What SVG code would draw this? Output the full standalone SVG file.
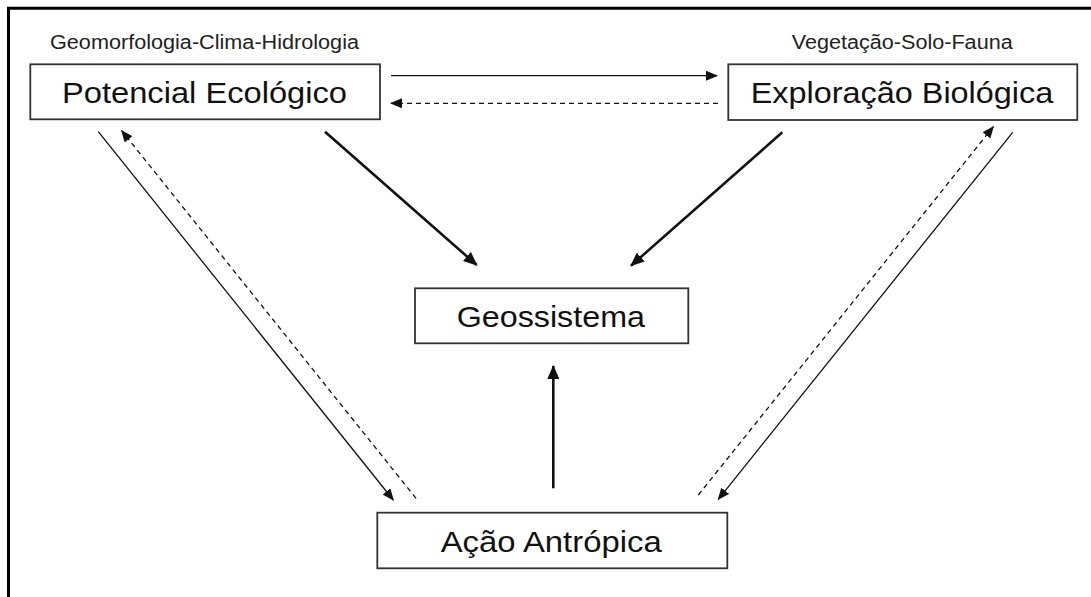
<svg xmlns="http://www.w3.org/2000/svg" width="1091" height="597" viewBox="0 0 1091 597">
<style>
.box{fill:#fff;stroke:#333;stroke-width:1.8}
.main{font-family:"Liberation Sans",Arial,sans-serif;font-size:30px;fill:#111}
.sub{font-family:"Liberation Sans",Arial,sans-serif;font-size:19.5px;fill:#222}
.thin{stroke:#111;stroke-width:1.3;fill:none}
.thick{stroke:#111;stroke-width:2.6;fill:none}
.dash{stroke-dasharray:5 4}
</style>
<defs>
<marker id="ah" markerUnits="userSpaceOnUse" markerWidth="12" markerHeight="10" refX="11" refY="5" orient="auto">
<path d="M0,0 L12,5 L0,10 z" fill="#111"/>
</marker>
<marker id="ahb" markerUnits="userSpaceOnUse" markerWidth="14" markerHeight="12" refX="13" refY="6" orient="auto">
<path d="M0,0 L14,6 L0,12 z" fill="#111"/>
</marker>
</defs>
<rect width="1091" height="597" fill="#fff"/>
<g id="frame">
<path d="M8.5,597 L8.5,8.3 L1091,8.3" fill="none" stroke="#000" stroke-width="3"/>
</g>
<g id="connectors">
<line class="thin" x1="391" y1="75.7" x2="717" y2="75.7" marker-end="url(#ah)"/>
<line class="thin dash" x1="718" y1="103.3" x2="391" y2="103.3" marker-end="url(#ah)"/>
<line class="thick" x1="325" y1="131.7" x2="476.7" y2="265" marker-end="url(#ahb)"/>
<line class="thick" x1="782.3" y1="132.3" x2="631" y2="265.7" marker-end="url(#ahb)"/>
<line class="thin" x1="98.3" y1="131.7" x2="393.3" y2="500" marker-end="url(#ah)"/>
<line class="thin dash" x1="416" y1="498.3" x2="121.7" y2="130.7" marker-end="url(#ah)"/>
<line class="thin" x1="1012.7" y1="132.3" x2="718.3" y2="499.3" marker-end="url(#ah)"/>
<line class="thin dash" x1="698.3" y1="495" x2="993.3" y2="126.7" marker-end="url(#ah)"/>
<line class="thick" x1="553.3" y1="488.3" x2="553.3" y2="366" marker-end="url(#ahb)"/>
</g>
<g id="potencial">
<text class="sub" x="50" y="49.3" textLength="309" lengthAdjust="spacingAndGlyphs">Geomorfologia-Clima-Hidrologia</text>
<rect class="box" x="30.3" y="64.3" width="349.7" height="55"/>
<text class="main" x="62" y="102.7" textLength="285" lengthAdjust="spacingAndGlyphs">Potencial Ecológico</text>
</g>
<g id="exploracao">
<text class="sub" x="791.7" y="49.3" textLength="221" lengthAdjust="spacingAndGlyphs">Vegetação-Solo-Fauna</text>
<rect class="box" x="728.3" y="64.3" width="349" height="55.7"/>
<text class="main" x="750.7" y="103.3" textLength="302.6" lengthAdjust="spacingAndGlyphs">Exploração Biológica</text>
</g>
<g id="geossistema">
<rect class="box" x="415" y="288.3" width="273.3" height="55"/>
<text class="main" x="456.7" y="327.3" textLength="188.3" lengthAdjust="spacingAndGlyphs">Geossistema</text>
</g>
<g id="acao">
<rect class="box" x="377.3" y="512.7" width="350" height="55.6"/>
<text class="main" x="440.7" y="551.7" textLength="221" lengthAdjust="spacingAndGlyphs">Ação Antrópica</text>
</g>
</svg>
